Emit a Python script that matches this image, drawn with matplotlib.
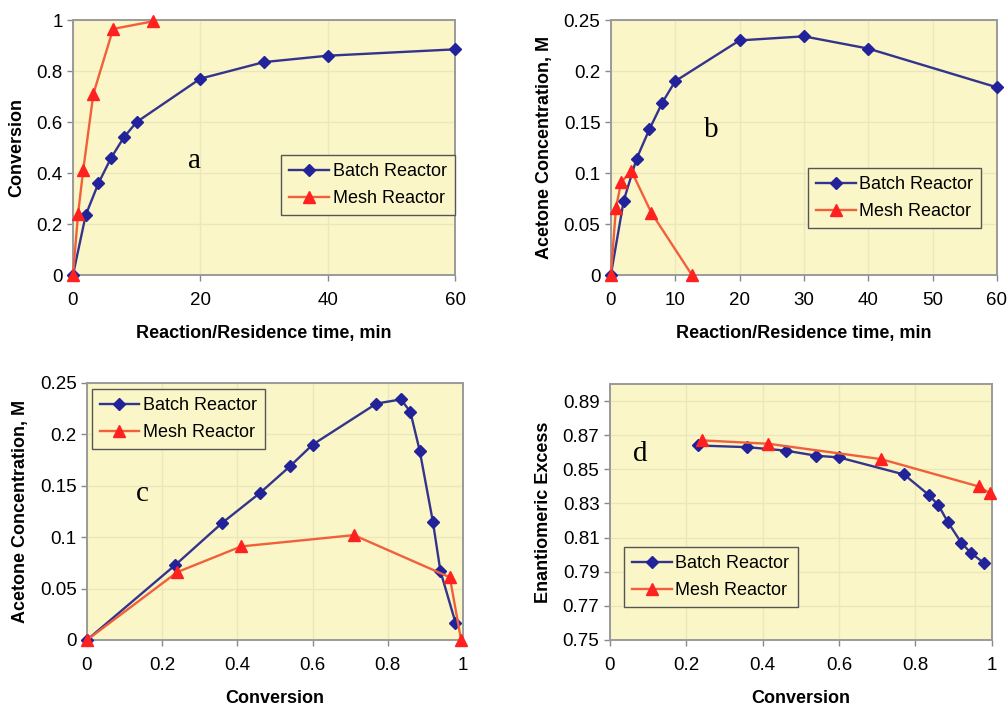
import matplotlib
matplotlib.use("Agg")
import matplotlib.pyplot as plt

# batch reactor, reaction time (min); last three points lie past 60 min
batch_time = [0, 2, 4, 6, 8, 10, 20, 30, 40, 60, 80, 100, 120]
batch_conv = [0, 0.235, 0.36, 0.46, 0.54, 0.60, 0.77, 0.835, 0.86, 0.885, 0.92, 0.94, 0.98]
batch_acet = [0, 0.073, 0.114, 0.143, 0.169, 0.190, 0.230, 0.234, 0.222, 0.184, 0.115, 0.067, 0.017]

# mesh reactor, residence time (min)
mesh_time = [0, 0.8, 1.6, 3.2, 6.3, 12.6]
mesh_conv = [0, 0.24, 0.41, 0.71, 0.965, 0.995]
mesh_acet = [0, 0.066, 0.091, 0.102, 0.061, 0]

# enantiomeric excess vs conversion
batch_ee_conv = [0.23, 0.36, 0.46, 0.54, 0.60, 0.77, 0.835, 0.86, 0.885, 0.92, 0.945, 0.98]
batch_ee = [0.864, 0.863, 0.861, 0.858, 0.857, 0.847, 0.835, 0.829, 0.819, 0.807, 0.801, 0.795]
mesh_ee_conv = [0.24, 0.415, 0.71, 0.965, 0.995]
mesh_ee = [0.867, 0.865, 0.856, 0.840, 0.836]

plt.rcParams['font.family'] = ['Liberation Sans', 'DejaVu Sans']

BG = '#faf6c8'
BLUE_LINE = '#34348c'
BLUE_MK = '#22229a'
RED_LINE = '#f0603a'
RED_MK = '#ff2020'
LBL = 13
TCK = 13.5

fig = plt.figure(figsize=(10.08, 7.07), dpi=100)
ax_a = fig.add_axes([0.0724, 0.611, 0.379, 0.3607])
ax_b = fig.add_axes([0.606, 0.611, 0.383, 0.3607])
ax_c = fig.add_axes([0.0863, 0.0948, 0.373, 0.3635])
ax_d = fig.add_axes([0.605, 0.0948, 0.379, 0.362])


def style(ax):
    ax.set_facecolor(BG)
    for s in ax.spines.values():
        s.set_color('#9a9a9a')
        s.set_linewidth(1.4)
    ax.grid(True, color='#ebe7bd', linewidth=1)
    ax.set_axisbelow(True)
    ax.tick_params(labelsize=TCK, length=4, color='#888888', width=1)
    ax.tick_params(axis='x', pad=8)


def draw(ax, bx, by, mx, my):
    ax.plot(bx, by, color=BLUE_LINE, lw=1.7, marker='D', ms=6.5,
            mfc=BLUE_MK, mec=BLUE_MK, label='Batch Reactor', clip_on=False, zorder=3)
    ax.plot(mx, my, color=RED_LINE, lw=1.7, marker='^', ms=8,
            mfc=RED_MK, mec=RED_MK, label='Mesh Reactor', clip_on=False, zorder=4)


def legend(ax, x, y):
    lg = ax.legend(loc='upper left', bbox_to_anchor=(x, y), fontsize=13,
                   fancybox=False, framealpha=1, facecolor=BG, edgecolor='#555555',
                   handlelength=2.2, handletextpad=0.2, borderpad=0.45, labelspacing=0.55,
                   borderaxespad=0)
    lg.get_frame().set_linewidth(1.0)


# a
style(ax_a)
draw(ax_a, batch_time[:10], batch_conv[:10], mesh_time, mesh_conv)
ax_a.set_xlim(0, 60)
ax_a.set_ylim(0, 1)
ax_a.set_xticks([0, 20, 40, 60])
ax_a.set_yticks([0, 0.2, 0.4, 0.6, 0.8, 1])
ax_a.set_yticklabels(['0', '0.2', '0.4', '0.6', '0.8', '1'])
ax_a.set_xlabel('Reaction/Residence time, min', fontsize=LBL, fontweight='bold', labelpad=12)
ax_a.set_ylabel('Conversion', fontsize=LBL, fontweight='bold', labelpad=8)
ax_a.text(18, 0.42, 'a', fontsize=21, family='Liberation Serif')
legend(ax_a, 0.545, 0.47)

# b
style(ax_b)
ax_b.set_xlim(0, 60)
ax_b.set_ylim(0, 0.25)
draw(ax_b, batch_time[:10], batch_acet[:10], mesh_time, mesh_acet)
ax_b.set_xticks(range(0, 61, 10))
ax_b.set_yticks([0, 0.05, 0.1, 0.15, 0.2, 0.25])
ax_b.set_yticklabels(['0', '0.05', '0.1', '0.15', '0.2', '0.25'])
ax_b.set_xlabel('Reaction/Residence time, min', fontsize=LBL, fontweight='bold', labelpad=12)
ax_b.set_ylabel('Acetone Concentration, M', fontsize=LBL, fontweight='bold', labelpad=8)
ax_b.text(14.5, 0.135, 'b', fontsize=21, family='Liberation Serif')
legend(ax_b, 0.51, 0.42)

# c
style(ax_c)
draw(ax_c, batch_conv, batch_acet, mesh_conv, mesh_acet)
ax_c.set_xlim(0, 1)
ax_c.set_ylim(0, 0.25)
ax_c.set_xticks([0, 0.2, 0.4, 0.6, 0.8, 1])
ax_c.set_xticklabels(['0', '0.2', '0.4', '0.6', '0.8', '1'])
ax_c.set_yticks([0, 0.05, 0.1, 0.15, 0.2, 0.25])
ax_c.set_yticklabels(['0', '0.05', '0.1', '0.15', '0.2', '0.25'])
ax_c.set_xlabel('Conversion', fontsize=LBL, fontweight='bold', labelpad=12)
ax_c.set_ylabel('Acetone Concentration, M', fontsize=LBL, fontweight='bold', labelpad=8)
ax_c.text(0.13, 0.135, 'c', fontsize=21, family='Liberation Serif')
legend(ax_c, 0.012, 0.977)

# d
style(ax_d)
draw(ax_d, batch_ee_conv, batch_ee, mesh_ee_conv, mesh_ee)
ax_d.set_xlim(0, 1)
ax_d.set_ylim(0.75, 0.90)
ax_d.set_xticks([0, 0.2, 0.4, 0.6, 0.8, 1])
ax_d.set_xticklabels(['0', '0.2', '0.4', '0.6', '0.8', '1'])
ax_d.set_yticks([0.75, 0.77, 0.79, 0.81, 0.83, 0.85, 0.87, 0.89])
ax_d.set_xlabel('Conversion', fontsize=LBL, fontweight='bold', labelpad=12)
ax_d.set_ylabel('Enantiomeric Excess', fontsize=LBL, fontweight='bold', labelpad=8)
ax_d.text(0.06, 0.855, 'd', fontsize=21, family='Liberation Serif')
legend(ax_d, 0.037, 0.363)

fig.savefig('out.png', dpi=100, facecolor='white')
